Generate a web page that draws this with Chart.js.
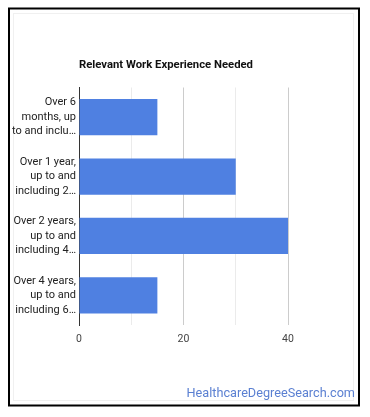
<!DOCTYPE html>
<html>
<head>
<meta charset="utf-8">
<script src="https://cdn.jsdelivr.net/npm/chart.js@4/dist/chart.umd.min.js"></script>
<style>
html,body{margin:0;padding:0;background:#fff;}
#wrap{position:relative;width:370px;height:417px;}
</style>
</head>
<body>
<div id="wrap"><canvas id="c" width="370" height="417"></canvas></div>
<script>
const categories = [
  ["Over 6", "months, up", "to and inclu…"],
  ["Over 1 year,", "up to and", "including 2…"],
  ["Over 2 years,", "up to and", "including 4…"],
  ["Over 4 years,", "up to and", "including 6…"]
];
const values = [15, 30, 40, 15];
const xTickLabels = [0, 20, 40];
const chartTitle = "Relevant Work Experience Needed";
const watermark = "HealthcareDegreeSearch.com";

const FONT = "Roboto, 'Liberation Sans', Arial, sans-serif";

const decor = {
  id: 'decor',
  beforeDraw(chart) {
    const ctx = chart.ctx;
    ctx.save();
    ctx.fillStyle = '#fff';
    ctx.fillRect(0, 0, chart.width, chart.height);
    ctx.strokeStyle = '#f0f0f0';
    ctx.lineWidth = 1;
    ctx.strokeRect(13.5, 13.5, 340, 387);
    ctx.restore();
  },
  afterDraw(chart) {
    const ctx = chart.ctx;
    const a = chart.chartArea;
    ctx.save();
    ctx.font = "bold 11.3px " + FONT;
    ctx.fillStyle = '#111';
    ctx.textAlign = 'left';
    ctx.textBaseline = 'alphabetic';
    ctx.fillText(chartTitle, a.left, 68);
    ctx.font = "12.7px " + FONT;
    ctx.fillStyle = '#5b80d2';
    ctx.textAlign = 'right';
    ctx.fillText(watermark, 355, 397);
    ctx.strokeStyle = '#000';
    ctx.lineWidth = 2;
    ctx.strokeRect(9, 8.5, 350, 397);
    ctx.restore();
  }
};

new Chart(document.getElementById('c'), {
  type: 'bar',
  data: {
    labels: categories,
    datasets: [{
      data: values,
      backgroundColor: '#4f80e1',
      borderWidth: 0,
      categoryPercentage: 1.0,
      barPercentage: 0.61
    }]
  },
  options: {
    indexAxis: 'y',
    responsive: false,
    animation: false,
    devicePixelRatio: 1,
    layout: { padding: { top: 87.5, right: 82, left: 0, bottom: 0 } },
    plugins: { legend: { display: false }, tooltip: { enabled: false }, title: { display: false } },
    scales: {
      x: {
        min: 0, max: 40,
        afterFit(s) { s.height = 92; },
        ticks: {
          stepSize: 10,
          autoSkip: false,
          maxRotation: 0,
          padding: 8,
          color: '#444',
          font: { family: FONT, size: 10.5 },
          callback(v) { return xTickLabels.includes(v) ? String(v) : ''; }
        },
        grid: {
          color(c) { return (c.tick && c.tick.value % 20 === 0) ? '#cccccc' : '#ebebeb'; },
          drawTicks: false, lineWidth: 1
        },
        border: { display: false }
      },
      y: {
        afterFit(s) { s.width = 79; },
        ticks: {
          color: '#222',
          padding: 3,
          font: { family: FONT, size: 11, lineHeight: 1.32 },
          crossAlign: 'near'
        },
        grid: { display: false, drawTicks: false },
        border: { display: true, color: '#333', width: 1 }
      }
    }
  },
  plugins: [decor]
});
</script>
</body>
</html>
